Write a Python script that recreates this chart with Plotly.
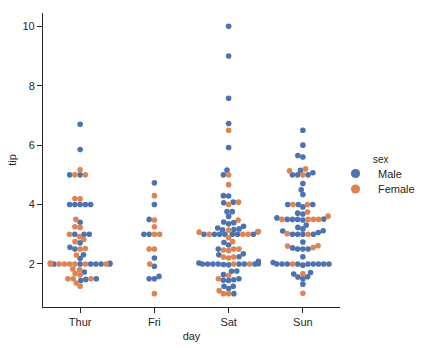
import numpy as np
import plotly.graph_objects as go

# ---- data (tips dataset, in row order per day) ----
days = ["Thur", "Fri", "Sat", "Sun"]

thur_tip = [4.00, 3.00, 2.71, 3.00, 3.40, 1.83, 5.00, 2.03, 5.17, 2.00, 4.00, 5.85, 3.00,
            1.50, 1.80, 2.92, 2.31, 1.68, 2.50, 2.00, 2.52, 4.20, 1.48, 2.00, 2.00, 2.18,
            1.50, 2.83, 1.50, 2.00, 3.25, 1.25, 2.00, 2.00, 2.00, 2.75, 3.50, 6.70, 5.00,
            5.00, 2.30, 1.50, 1.36, 1.63, 1.73, 2.00,
            4.19, 2.56, 2.02, 4.00, 1.44, 2.00, 5.00, 2.00, 2.00, 4.00, 2.01, 2.00, 2.50,
            4.00, 3.23, 3.00]
thur_sex = "MMMMMFMFFMMMM" + "FFFMFMMFFMFFMMFFFFFFFMFFMMFFFFFMM" + "FMMMMMFFMMFFFMF" + "F"

fri_tip = [3.00, 3.50, 1.00, 4.30, 3.25, 4.73, 4.00, 1.50, 3.00, 1.50, 2.50, 3.00,
           2.20, 3.48, 1.92, 3.00, 1.58, 2.50, 2.00]
fri_sex = "MMFFFMMMMMFF" + "MFMFMFF"

sat_tip = [3.35, 4.08, 2.75, 2.23, 7.58, 3.18, 2.34, 2.00, 2.00, 4.30, 3.00, 1.45, 2.50,
           3.00, 2.45, 3.27, 3.60, 2.00, 3.07, 2.31, 5.00, 2.24,
           3.00, 1.50, 1.76, 6.73, 3.21, 2.00, 1.98, 3.76, 2.64, 3.15, 2.47, 1.00, 2.01,
           2.09, 1.97, 3.00, 3.14, 5.00, 2.20, 1.25, 3.08,
           2.50, 3.48, 4.08, 1.64, 4.06, 4.29, 3.76, 4.00, 3.00, 1.00,
           1.61, 2.00, 10.00, 3.16,
           3.41, 3.00, 2.03, 2.23, 2.00, 5.16, 9.00, 2.50, 6.50, 1.10, 3.00, 1.50, 1.44, 3.09,
           3.00, 2.72, 2.88, 2.00, 3.00, 3.39, 1.47, 3.00, 1.25, 1.00, 1.17, 4.67, 5.92,
           2.00, 2.00, 1.75]
sat_sex = ("MMFFMMMMMMFMMFFMMMFMMM" + "MFMMMMMMMMFFMMMFFFFMM" + "FFFMMMMFMF" + "FFMM"
           + "MMMFMMMFFFMMMF" + "MMFMMMMMMMMFMFMM")

sun_tip = [1.01, 1.66, 3.50, 3.31, 3.61, 4.71, 2.00, 3.12, 1.96, 3.23, 1.71, 5.00, 1.57,
           3.00, 3.02, 3.92, 1.67, 3.71, 3.50,
           2.54, 3.06, 1.32, 5.60, 3.00, 5.00, 6.00, 2.05, 3.00, 2.50, 2.60, 5.20, 1.56,
           4.34, 3.51,
           4.00, 2.55, 4.00, 3.50, 5.07,
           2.50, 2.00, 2.74, 2.00, 2.00, 5.14, 5.00, 3.75, 2.61, 2.00, 3.50, 2.50, 2.00,
           2.00, 3.00, 3.48, 2.24, 4.50,
           5.15, 3.18, 4.00, 3.11, 2.00, 2.00, 4.00, 3.55, 3.68, 5.65, 3.50, 6.50, 3.00,
           5.00, 3.50, 2.00, 3.50, 4.00, 1.50]
sun_sex = ("FMMMFMMMMMMFMMFMFMF" + "MMMMMMMMMMFFMMM" + "MFFFM" + "MMMMMFMFFMMMFMFMMM"
           + "MMMMMMFMMMMMMMFMFMM")

day_tips = [thur_tip, fri_tip, sat_tip, sun_tip]
day_sex = [thur_sex, fri_sex, sat_sex, sun_sex]
for t, s in zip(day_tips, day_sex):
    assert len(t) == len(s), (len(t), len(s))

sex_names = {"M": "Male", "F": "Female"}
sex_colors = {"M": "#4c72b0", "F": "#dd8452"}

# ---- layout geometry ----
W, H = 421, 348
ML, MR, MT, MB = 43, 81, 13, 41
PW, PH = W - ML - MR, H - MT - MB
XR = [-0.5, 3.5]
YR = [0.55, 10.45]
px_x = PW / (XR[1] - XR[0])
px_y = PH / (YR[1] - YR[0])
RADIUS = 2.5


def beeswarm(vals, center):
    """seaborn-like swarm placement in pixel space; returns x positions in data units."""
    y = (np.asarray(vals) - YR[0]) * px_y
    x = np.full_like(y, center * px_x)
    r = np.full_like(y, RADIUS)
    xyr = np.c_[x, y, r]
    sorter = np.argsort(xyr[:, 1])
    orig = xyr[sorter]
    midline = orig[0, 0]
    swarm = [orig[0]]
    for xyr_i in orig[1:]:
        _, y_i, r_i = xyr_i
        neigh = []
        for xyr_j in reversed(swarm):
            if (y_i - xyr_j[1]) < (r_i + xyr_j[2]):
                neigh.append(xyr_j)
            else:
                break
        neigh = np.array(neigh[::-1]).reshape(-1, 3)
        cands = [xyr_i]
        left_first = True
        for x_j, y_j, r_j in neigh:
            dy = y_i - y_j
            dx = np.sqrt(max((r_i + r_j) ** 2 - dy ** 2, 0)) * 1.05
            cl, cr = np.array([x_j - dx, y_i, r_i]), np.array([x_j + dx, y_i, r_i])
            cands.extend([cl, cr] if left_first else [cr, cl])
            left_first = not left_first
        cands = np.array(cands)
        cands = cands[np.argsort(np.abs(cands[:, 0] - midline))]
        chosen = cands[0]
        if len(neigh):
            for c in cands:
                d2 = (neigh[:, 0] - c[0]) ** 2 + (neigh[:, 1] - c[1]) ** 2
                if np.all(d2 >= (neigh[:, 2] + c[2]) ** 2):
                    chosen = c
                    break
        swarm.append(chosen)
    swarm = np.array(swarm)
    new = np.empty_like(swarm)
    new[sorter] = swarm
    xd = new[:, 0] / px_x
    half = 0.4
    return np.clip(xd, center - half, center + half)


fig = go.Figure()
pts = {"M": ([], []), "F": ([], [])}
for i, (tips, sexes) in enumerate(zip(day_tips, day_sex)):
    xs = beeswarm(tips, i)
    for xv, tv, s in zip(xs, tips, sexes):
        pts[s][0].append(xv)
        pts[s][1].append(tv)

for s in ["M", "F"]:
    fig.add_trace(go.Scatter(
        x=pts[s][0], y=pts[s][1], mode="markers", name=sex_names[s],
        marker=dict(color=sex_colors[s], size=5.6, line=dict(width=0)),
        showlegend=False, hoverinfo="skip"))

FONT = "Liberation Sans, Arial, sans-serif"
TXT = "#262626"


def paper_x(px):
    return (px - ML) / PW


def paper_y(py):
    return (H - MB - py) / PH


# seaborn-style legend to the right of the axes
annotations = [dict(text="sex", x=paper_x(371), y=paper_y(159.5), xref="paper", yref="paper",
                    xanchor="left", yanchor="middle", showarrow=False,
                    font=dict(family=FONT, size=10, color=TXT))]
shapes = []
for k, s in enumerate(["M", "F"]):
    cy = 173.5 + 15.5 * k
    annotations.append(dict(text=sex_names[s], x=paper_x(375.5), y=paper_y(cy), xref="paper",
                            yref="paper", xanchor="left", yanchor="middle", showarrow=False,
                            font=dict(family=FONT, size=11, color=TXT)))
    shapes.append(dict(type="circle", xref="paper", yref="paper", xsizemode="pixel",
                       ysizemode="pixel", xanchor=paper_x(355.5), yanchor=paper_y(cy),
                       x0=-4.6, x1=4.6, y0=-4.6, y1=4.6,
                       fillcolor=sex_colors[s], line=dict(width=0)))

fig.update_layout(
    width=W, height=H,
    margin=dict(l=ML, r=MR, t=MT, b=MB, autoexpand=False),
    paper_bgcolor="white", plot_bgcolor="white",
    font=dict(family=FONT, size=11, color=TXT),
    showlegend=False,
    annotations=annotations, shapes=shapes,
    xaxis=dict(range=XR, tickvals=list(range(len(days))), ticktext=days,
               showline=True, linecolor=TXT, linewidth=1.1, ticks="outside",
               ticklen=5, tickwidth=1.1, tickcolor=TXT, showgrid=False, zeroline=False,
               ticklabelstandoff=0, automargin=False,
               title=dict(text="day", font=dict(size=11), standoff=5)),
    yaxis=dict(range=YR, tickvals=[2, 4, 6, 8, 10],
               showline=True, linecolor=TXT, linewidth=1.1, ticks="outside",
               ticklen=5, tickwidth=1.1, tickcolor=TXT, showgrid=False, zeroline=False,
               automargin=False,
               title=dict(text="tip", font=dict(size=11), standoff=3)),
)

fig.write_html("out.html")
